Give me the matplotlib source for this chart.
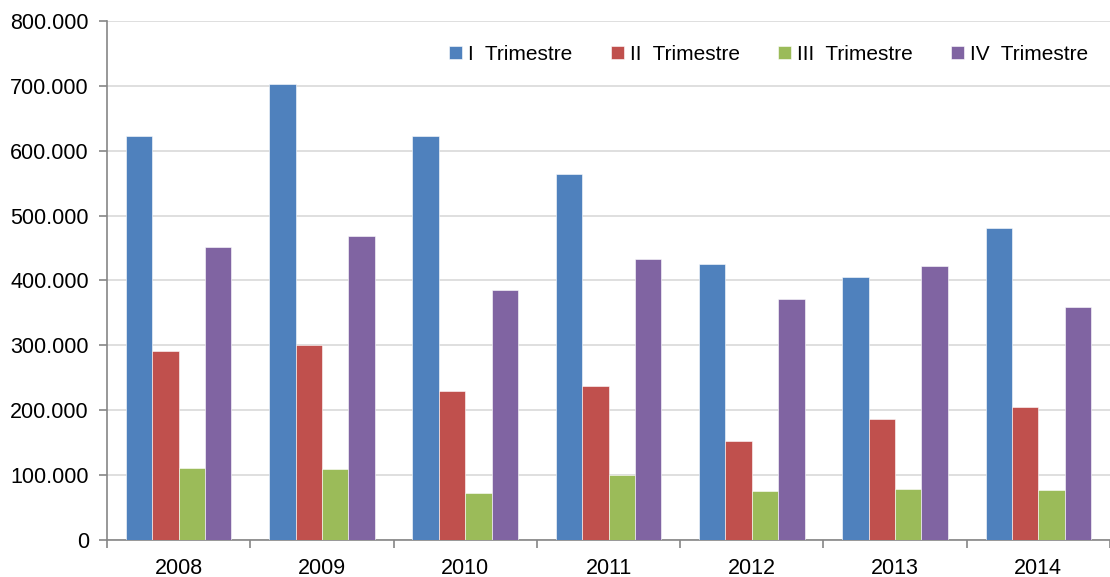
import numpy as np
import matplotlib.pyplot as plt
from matplotlib.ticker import FuncFormatter, FixedLocator

plt.rcParams['font.family'] = ['Liberation Sans', 'DejaVu Sans']

# data
years = ['2008', '2009', '2010', '2011', '2012', '2013', '2014']
q1 = [622, 702, 623, 564, 426, 406, 480]   # thousands
q2 = [291, 301, 229, 238, 152, 187, 205]
q3 = [111, 109, 73, 101, 76, 78, 77]
q4 = [451, 468, 385, 433, 371, 422, 359]
series = [q1, q2, q3, q4]
labels = ['I  Trimestre', 'II  Trimestre', 'III  Trimestre', 'IV  Trimestre']
colors = ['#4F81BD', '#C0504D', '#9BBB59', '#8064A2']

fig = plt.figure(figsize=(11.1, 5.77), dpi=100)
ax = fig.add_axes([0.0964, 0.064, 0.9036, 0.9])

x = np.arange(len(years))
w = 0.184
for i, (vals, lab, col) in enumerate(zip(series, labels, colors)):
    ax.bar(x + (i - 1.5) * w, np.array(vals) * 1000, width=w, color=col,
           label=lab, edgecolor='white', linewidth=0.4, zorder=3)

ax.set_xlim(-0.5, len(years) - 0.5)
ax.set_ylim(0, 800000)
ax.set_yticks(np.arange(0, 800001, 100000))
ax.yaxis.set_major_formatter(FuncFormatter(
    lambda v, p: '0' if v == 0 else f'{int(v):,}'.replace(',', '.')))

# ticks on category boundaries, labels at centres
ax.xaxis.set_major_locator(FixedLocator(np.arange(-0.5, len(years), 1.0)))
ax.xaxis.set_minor_locator(FixedLocator(x))
ax.set_xticklabels([''] * len(ax.get_xticks()))
ax.set_xticklabels(years, minor=True)
ax.tick_params(axis='x', which='major', length=6, color='#868686', width=1.2)
ax.tick_params(axis='x', which='minor', length=0, pad=13, labelsize=15.5)
ax.tick_params(axis='y', length=6, color='#868686', width=1.2, labelsize=15.5, pad=7)

ax.grid(axis='y', color='#D9D9D9', linewidth=1.2, zorder=0)
for s in ['top', 'right']:
    ax.spines[s].set_visible(False)
for s in ['left', 'bottom']:
    ax.spines[s].set_color('#868686')
    ax.spines[s].set_linewidth(1.2)

ax.legend(loc='upper right', bbox_to_anchor=(0.997, 0.99), ncol=4, frameon=False,
          fontsize=15, handlelength=0.6, handleheight=0.6, handletextpad=0.3,
          columnspacing=1.85)

fig.savefig('out.png', dpi=100)
